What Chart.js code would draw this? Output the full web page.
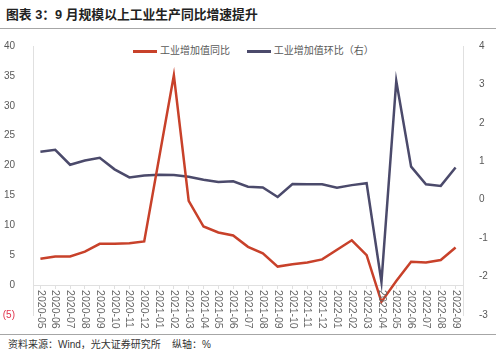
<!DOCTYPE html>
<html>
<head>
<meta charset="utf-8">
<script src="https://cdn.jsdelivr.net/npm/chart.js@4"></script>
<style>
	body { margin: 0; width: 500px; height: 349px; background: #fff; position: relative; overflow: hidden;
		font-family: "Liberation Sans", "Noto Sans CJK SC", sans-serif; }
	#title { position: absolute; left: 6px; top: 4px; font-size: 12.8px; font-weight: bold; color: #222; }
	#topline { position: absolute; left: 0; top: 28px; width: 496px; height: 1px; background: #a6a6a6; }
	#legend { position: absolute; top: 42px; left: 133px; font-size: 10px; color: #595959; white-space: nowrap; }
	#legend span.sw { display: inline-block; width: 24px; height: 3px; vertical-align: middle; margin-right: 3px; }
	#bottomline { position: absolute; left: 0; top: 334px; width: 496px; height: 1px; background: #a6a6a6; }
	#note { position: absolute; left: 8px; top: 336px; font-size: 10px; color: #333; }
	#wrap { position: absolute; left: 0; top: 30px; width: 500px; height: 303px; }
</style>
</head>
<body>
<div id="title">图表 3：9 月规模以上工业生产同比增速提升</div>
<div id="topline"></div>
<div id="legend">
	<span class="sw" style="background:#c8412a"></span>工业增加值同比
	<span class="sw" style="background:#4b4a6b;margin-left:14px"></span>工业增加值环比（右）
</div>
<div id="wrap"><canvas id="myChart"></canvas></div>
<div id="bottomline"></div>
<div id="note">资料来源：Wind，光大证券研究所&nbsp;&nbsp;&nbsp;&nbsp;纵轴：%</div>

<script>
// 월별 카테고리
const months = ['2020-05', '2020-06', '2020-07', '2020-08', '2020-09', '2020-10', '2020-11', '2020-12',
	'2021-01', '2021-02', '2021-03', '2021-04', '2021-05', '2021-06', '2021-07', '2021-08', '2021-09',
	'2021-10', '2021-11', '2021-12', '2022-01', '2022-02', '2022-03', '2022-04', '2022-05', '2022-06',
	'2022-07', '2022-08', '2022-09'];
// 工业增加值同比 (1월은 자료 없음)
const yoyValues = [4.4, 4.8, 4.8, 5.6, 6.9, 6.9, 7.0, 7.3, null, 35.1, 14.1, 9.8, 8.8, 8.3, 6.4, 5.3, 3.1,
	3.5, 3.8, 4.3, null, 7.5, 5.0, -2.8, 0.7, 3.9, 3.8, 4.2, 6.3];
// 工业增加值环比（右）
const momValues = [1.25, 1.30, 0.91, 1.02, 1.09, 0.79, 0.58, 0.63, 0.65, 0.64, 0.60, 0.52, 0.46, 0.48,
	0.34, 0.32, 0.07, 0.41, 0.40, 0.40, 0.31, 0.38, 0.43, -2.14, 3.09, 0.86, 0.40, 0.36, 0.84];
const leftTicks = [-5, 0, 5, 10, 15, 20, 25, 30, 35, 40];
const rightTicks = [-3, -2, -1, 0, 1, 2, 3, 4];

const crt = document.getElementById('myChart');
const tickFont = { family: '"Liberation Sans", "Noto Sans CJK SC", sans-serif', size: 10 };

// x축 라벨을 위에서 아래로 세로 출력
const monthLabels = {
	id: 'monthLabels',
	afterDraw(chart) {
		const ctx = chart.ctx;
		const x = chart.scales.x;
		const y0 = chart.scales.y.getPixelForValue(0);
		ctx.save();
		ctx.font = '10.5px "Liberation Sans", sans-serif';
		ctx.fillStyle = '#666666';
		ctx.textAlign = 'left';
		ctx.textBaseline = 'middle';
		months.forEach(function(m, i) {
			ctx.save();
			ctx.translate(x.getPixelForValue(i), y0 + 5);
			ctx.rotate(Math.PI / 2);
			ctx.fillText(m, 0, 0);
			ctx.restore();
		});
		ctx.restore();
	}
};

new Chart(crt, {
	type: 'line',
	data: {
		labels: months,
		datasets: [{
			label: '工业增加值同比',
			data: yoyValues,
			yAxisID: 'y',
			borderColor: '#c8412a',
			backgroundColor: '#c8412a',
			borderWidth: 2.5,
			pointRadius: 0,
			spanGaps: true,
			tension: 0
		}, {
			label: '工业增加值环比（右）',
			data: momValues,
			yAxisID: 'y1',
			borderColor: '#4b4a6b',
			backgroundColor: '#4b4a6b',
			borderWidth: 2.5,
			pointRadius: 0,
			tension: 0
		}]
	},
	options: {
		responsive: true,
		maintainAspectRatio: false,
		animation: false,
		layout: { padding: { top: 15, bottom: 18, left: 0, right: 0 } },
		plugins: {
			legend: { display: false },
			tooltip: { enabled: false }
		},
		scales: {
			x: {
				position: { y: 0 },
				offset: true,
				grid: { display: true, drawOnChartArea: false, tickLength: 3, color: '#e0e0e0' },
				border: { display: true, color: '#e0e0e0' },
				ticks: { display: false }
			},
			y: {
				position: 'left',
				min: -5,
				max: 40,
				afterBuildTicks: function(scale) {
					scale.ticks = leftTicks.map(v => ({ value: v }));
				},
				afterFit: function(scale) { scale.width = 33; },
				grid: { display: false },
				border: { display: true, color: '#e0e0e0' },
				ticks: {
					font: tickFont,
					padding: 10,
					color: ctx => (ctx.tick && ctx.tick.value < 0) ? '#e0314b' : '#595959',
					callback: v => v < 0 ? '(' + Math.abs(v) + ')' : v
				}
			},
			y1: {
				position: 'right',
				min: -3,
				max: 4,
				afterBuildTicks: function(scale) {
					scale.ticks = rightTicks.map(v => ({ value: v }));
				},
				afterFit: function(scale) { scale.width = 37; },
				grid: { display: false },
				border: { display: true, color: '#e0e0e0' },
				ticks: { font: tickFont, padding: 8, color: '#595959' }
			}
		}
	},
	plugins: [monthLabels]
});
</script>
</body>
</html>
